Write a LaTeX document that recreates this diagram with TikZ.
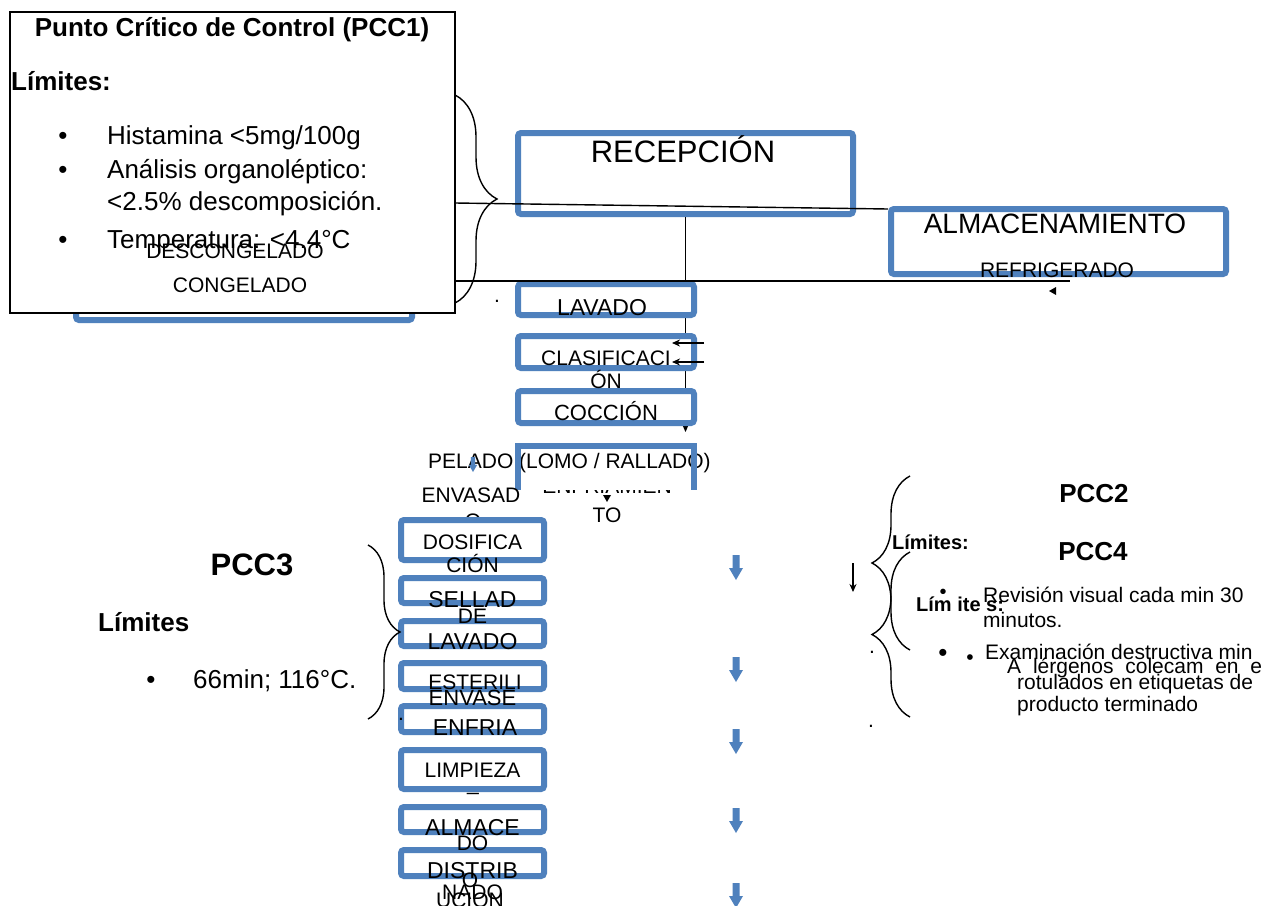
\documentclass[tikz,border=0pt]{standalone}
\usepackage{fontspec}
\setmainfont{Liberation Sans}
\usetikzlibrary{decorations.pathreplacing,fit,arrows.meta,calc}
\definecolor{boxblue}{RGB}{79,129,189}
\newcommand{\myfs}[1]{\fontsize{#1}{#1}\selectfont}
\begin{document}
\begin{tikzpicture}[x=1pt,y=-1pt,
  bluebox/.style={draw=boxblue, line width=6pt, rounded corners=3pt, fill=white, inner sep=0pt},
  t/.style={inner sep=0pt, anchor=base, font=\myfs{21}},
  tl/.style={t, anchor=base west},
  big/.style={font=\myfs{23}},
  bul/.style={font=\myfs{26}},
  bold/.style={font=\bfseries\myfs{#1}},
  brc/.style={draw=black, line width=1.4pt, decorate, decoration={brace, amplitude=#1}},
  blk/.style={draw=black, line width=1.5pt, -{Stealth[length=8pt,width=7pt]}},
  barrow/.pic={\fill[boxblue] (-3.5,0) -- (3.5,0) -- (3.5,13) -- (7,13) -- (0,25) -- (-7,13) -- (-3.5,13) -- cycle;}
]
\useasboundingbox (0,0) rectangle (1277,905);
\clip (0,0) rectangle (1277,905);
\fill[white] (0,0) rectangle (1277,905);

% box behind PCC1
\node[bluebox, fit={(76,240)(412,320)}] (desc) {};
\node[draw=black, line width=1.2pt, fill=white, inner sep=0pt, fit={(10,12)(455,313)}] (pcc1) {};
\node[t, bold=26] (pcct) at (232,36) {Punto Crítico de Control (PCC1)};
\node[tl, bold=26] (lim1) at (11,90) {Límites:};
\node[t, bul] (b1) at (63,144) {•};
\node[t, bul] (b2) at (63,178) {•};
\node[t, bul] (b3) at (63,248) {•};
\node[tl, bul] (h1) at (107,144) {Histamina <5mg/100g};
\node[tl, bul] (h2) at (107,178) {Análisis organoléptico:};
\node[tl, bul] (h3) at (107,210) {<2.5\% descomposición.};
\node[tl, bul] (h4) at (107,248) {Temperatura: <4.4°C};
\node[t] (desc1) at (235,258) {DESCONGELADO};
\node[t] (desc2) at (240,292) {CONGELADO};
\draw[brc=42pt] (455,95) -- (455,303);

% vertical connector
\coordinate (vend) at (685.5,432);
\node[bluebox, fit={(518,133)(853,214)}] (recep) {};
\draw[blk] (recep.south) -- (vend);
\node[bluebox, fit={(891,209)(1226,274)}] (almac) {};
\node[bluebox, fit={(518,284)(694,315)}] (lavado) {};
\node[bluebox, fit={(518,336)(694,368)}] (clasif) {};
\node[bluebox, fit={(518,391)(694,423)}] (cocc) {};

\node[t, font=\myfs{31}] (trecep) at (683,162) {RECEPCIÓN};
\node[t, font=\myfs{28}] (talmac) at (1055,233) {ALMACENAMIENTO};
\node[t] (trefr) at (1057,277) {REFRIGERADO};
\node[t, big] (tlav) at (602,315) {LAVADO};
\node[t] (tcla1) at (606,365) {CLASIFICACI};
\node[t] (tcla2) at (606,388) {ÓN};
\node[t, font=\myfs{22}] (tcoc) at (606,420) {COCCIÓN};

% horizontal lines
\coordinate (l1a) at (455,203);
\coordinate (l1b) at (888,209);
\coordinate (l2a) at (455,281);
\coordinate (l2b) at (1070,281);
\draw[line width=1.4pt] (l1a) -- (l1b);
\draw[line width=1.4pt] (l2a) -- (l2b);
\fill (1056,287) -- (1056,295) -- (1049,291) -- cycle;
\coordinate (ca1) at (704,343); \coordinate (ca2) at (672,343);
\coordinate (cb1) at (704,362); \coordinate (cb2) at (672,362);
\draw[blk] (ca1) -- (ca2);
\draw[blk] (cb1) -- (cb2);

% lomo box (open bottom)
\node[t] (tenf) at (607,493) {ENFRIAMIEN};
\node[fill=white, inner sep=0pt, fit={(515,443)(697,490)}] (lomo) {};
\node[tl] (tpel) at (428,468) {PELADO (LOMO / RALLADO)};
\draw[boxblue, line width=6pt] ($(lomo.south west)+(3,0)$) |- ($(lomo.north east)+(-3,3)$) -- ($(lomo.south east)+(-3,0)$);
\node[t] (tto) at (607,522) {TO};
\fill (603,495) -- (611,495) -- (607,502) -- cycle;
\pic[scale=0.6] at (473,457) {barrow};
\node[t] (tenv) at (471,502) {ENVASAD};
\node[t] (tenvo) at (473,528) {O};

% lower column
\node[bluebox, fit={(401,520)(544,560)}] (dosif) {};
\node[bluebox, fit={(401,578)(544,603)}] (sell) {};
\node[bluebox, fit={(401,621)(544,646)}] (lav2) {};
\node[bluebox, fit={(401,663)(544,689)}] (est) {};
\node[bluebox, fit={(401,706)(544,732)}] (enf) {};
\node[bluebox, fit={(401,750)(544,789)}] (limp) {};
\node[bluebox, fit={(401,807)(544,832)}] (alm2) {};
\node[bluebox, fit={(401,850)(544,876)}] (dist) {};

\node[t] (d1) at (472.5,549) {DOSIFICA};
\node[t] (d2) at (472.5,572) {CIÓN};
\node[t, big] (d3) at (472.5,607) {SELLAD};
\node[t] (d4) at (472.5,623) {DE};
\node[t, big] (d5) at (472.5,649) {LAVADO};
\node[t] (d6) at (475,689) {ESTERILI};
\node[t, font=\myfs{22}] (d7) at (472.5,705) {ENVASE};
\node[t, big] (d8) at (475,735) {ENFRIA};
\node[t] (d9) at (472.5,777) {LIMPIEZA};
\node[t] (d10) at (473,790) {\_};
\node[t, big] (d11) at (472.5,835) {ALMACE};
\node[t] (d12) at (472.5,850) {DO};
\node[t, big] (d13) at (472.5,878) {DISTRIB};
\node[t] (d14) at (470,887) {O};
\node[t] (d15) at (472.5,899) {NADO};
\node[t] (d16) at (470,907) {UCION};

% blue arrows
\pic at (736,555) {barrow};
\pic at (736,657) {barrow};
\pic at (736,729) {barrow};
\pic at (736,808) {barrow};
\pic at (736,883) {barrow};

% PCC3
\draw[brc=32pt] (368,545) -- (368,719);
\node[t, bold=31] (p3) at (252,575) {PCC3};
\node[tl, bold=26] (p3l) at (98,631) {Límites};
\node[t, bul] (p3b) at (151,688) {•};
\node[tl, bul] (p3t) at (193,688) {66min; 116°C.};

% right side
\draw[brc=38pt] (910,650) -- (910,476);
\draw[brc=38pt] (910,717) -- (910,552);
\coordinate (da) at (853,563); \coordinate (db) at (853,592);
\draw[blk] (da) -- (db);
\node[t, bold=26] (p2) at (1094,502) {PCC2};
\node[t, bold=26] (p4) at (1093,560) {PCC4};
\node[tl, bold=20] (rl1) at (892,549) {Límites:};
\node[tl, bold=20] (rl2) at (916,611) {Lím ite s:};
\node[t, font=\myfs{20}] (rb0) at (943,598) {•};
\node[tl] (r1) at (983,602) {Revisión visual cada min 30};
\node[tl] (r2) at (983,627) {minutos.};
\node[t, bul] (rb1) at (943,661) {•};
\node[t] (rb2) at (970,664) {•};
\node[tl] (r3) at (985,659) {Examinación destructiva min};
\node[tl] (r4) at (1007,673) {\makebox[255pt][s]{A lérgenos colecam en e}};
\node[tl] (r5) at (1017,689) {rotulados en etiquetas de};
\node[tl] (r6) at (1017,711) {producto terminado};

% stray dots
\node[t] (dot1) at (497,302) {.};
\node[t] (dot2) at (401,720) {.};
\node[t] (dot3) at (872,653) {.};
\node[t] (dot4) at (871,727) {.};
\end{tikzpicture}
\end{document}
